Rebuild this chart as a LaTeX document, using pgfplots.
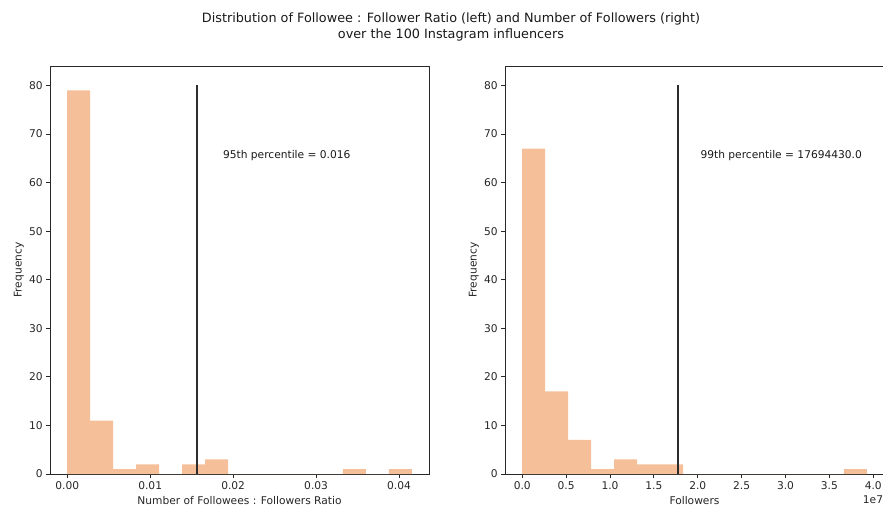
\documentclass[border=0pt]{standalone}
\usepackage{fontspec}
\setmainfont{DejaVu Sans}
\usepackage{pgfplots}
\pgfplotsset{compat=1.18}
\definecolor{histc}{RGB}{245,192,153}
\definecolor{spine}{RGB}{40,40,40}
\definecolor{vline}{RGB}{45,45,45}
\pgfplotsset{
  hstyle/.style={
    scale only axis,
    width=379bp, height=408bp,
    ymin=0, ymax=84,
    ytick={0,10,...,80},
    axis line style={spine, line width=0.85bp},
    tick align=outside,
    xtick pos=bottom, ytick pos=left,
    major tick length=3.75bp,
    tick style={spine, line width=0.85bp},
    ticklabel style={font=\fontsize{10.7}{12.8}\selectfont, text=black!85},
    /pgf/number format/assume math mode=true,
    scaled x ticks=false, scaled y ticks=false,
    label style={font=\fontsize{10.7}{12.8}\selectfont, text=black!85},
    ylabel={Frequency},
    ylabel style={at={(axis description cs:-0.082,0.5)}, anchor=center},
    xlabel style={at={(axis description cs:0.5,-0.066)}, anchor=center},
    clip=false,
  }
}
\begin{document}
\begin{tikzpicture}
\path[use as bounding box] (0,0) rectangle (883bp,508bp);
\node[align=center, font=\fontsize{12.85}{16}\selectfont, text=black!90] at (451bp,481bp)
  {Distribution of Followee : Follower Ratio (left) and Number of Followers (right)\\over the 100 Instagram influencers};

\begin{axis}[hstyle,
  at={(50bp,34bp)}, anchor=south west,
  xmin=-0.0020767, xmax=0.04361,
  xtick={0,0.01,0.02,0.03,0.04},
  xticklabels={0.00,0.01,0.02,0.03,0.04},
  xlabel={Number of Followees : Followers Ratio},
]
\addplot[ybar interval, fill=histc, draw=none] coordinates {
(0,79) (0.0027689,11) (0.0055377,1) (0.0083066,2) (0.0110755,0)
(0.0138443,2) (0.0166132,3) (0.0193821,0) (0.0221509,0) (0.0249198,0)
(0.0276887,0) (0.0304575,0) (0.0332264,1) (0.0359953,0) (0.0387641,1)
(0.041533,1)};
\addplot[vline, line width=2bp] coordinates {(0.01566,0) (0.01566,80)};
\node[anchor=base west, inner sep=0pt, font=\fontsize{10.7}{12.8}\selectfont, text=black!90] at (axis cs:0.01876,65) {95th percentile = 0.016};
\end{axis}

\begin{axis}[hstyle,
  at={(505bp,34bp)}, anchor=south west,
  xmin=-1963000, xmax=41223000,
  xtick={0,5000000,10000000,15000000,20000000,25000000,30000000,35000000,40000000},
  xticklabels={0.0,0.5,1.0,1.5,2.0,2.5,3.0,3.5,4.0},
  xlabel={Followers},
]
\addplot[ybar interval, fill=histc, draw=none] coordinates {
(0,67) (2617333,17) (5234667,7) (7852000,1) (10469333,3)
(13086667,2) (15704000,2) (18321333,0) (20938667,0) (23556000,0)
(26173333,0) (28790667,0) (31408000,0) (34025333,0) (36642667,1)
(39260000,1)};
\addplot[vline, line width=2bp] coordinates {(17694430,0) (17694430,80)};
\node[anchor=base west, inner sep=0pt, font=\fontsize{10.7}{12.8}\selectfont, text=black!90] at (axis cs:20300000,65) {99th percentile = 17694430.0};
\node[anchor=east, inner sep=0pt, font=\fontsize{10.7}{12.8}\selectfont, text=black!85] at (axis description cs:0.998,-0.062) {1e7};
\end{axis}
\end{tikzpicture}
\end{document}
